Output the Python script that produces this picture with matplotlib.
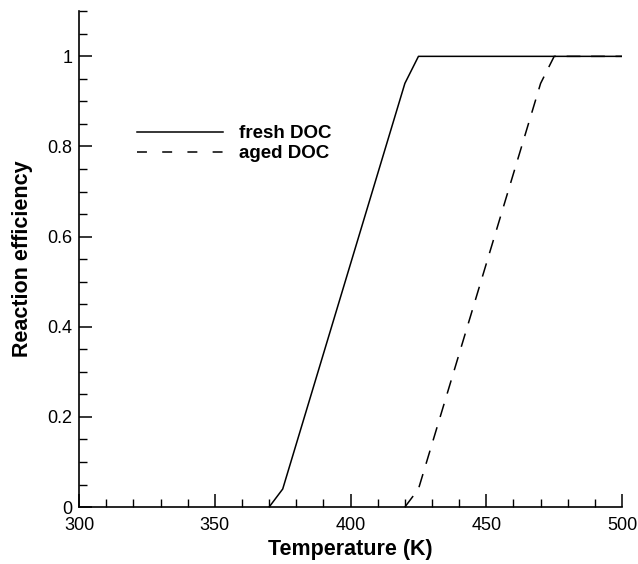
import matplotlib
matplotlib.use("Agg")
import matplotlib.pyplot as plt
from matplotlib.ticker import MultipleLocator
from matplotlib.lines import Line2D

plt.rcParams['font.family'] = ['Liberation Sans', 'DejaVu Sans']

# data
fresh_T = [370, 375, 420, 425, 500]
fresh_eff = [0, 0.04, 0.94, 1, 1]
aged_T = [420, 425, 470, 475, 500]
aged_eff = [0, 0.04, 0.94, 1, 1]

fig = plt.figure(figsize=(6.38, 5.64), dpi=100)
ax = fig.add_axes([0.124, 0.101, 0.851, 0.879])

ax.plot(fresh_T, fresh_eff, color='black', linewidth=1.1)
ax.plot(aged_T, aged_eff, color='black', linewidth=1.1, linestyle=(0, (9, 7)))

ax.set_xlim(300, 500)
ax.set_ylim(0, 1.1)
ax.xaxis.set_major_locator(MultipleLocator(50))
ax.xaxis.set_minor_locator(MultipleLocator(10))
ax.yaxis.set_minor_locator(MultipleLocator(0.05))
ax.set_yticks([0, 0.2, 0.4, 0.6, 0.8, 1.0])
ax.set_yticklabels(['0', '0.2', '0.4', '0.6', '0.8', '1'])

for s in ['top', 'right']:
    ax.spines[s].set_visible(False)
ax.spines['left'].set_linewidth(1.2)
ax.spines['bottom'].set_linewidth(1.2)

ax.tick_params(which='major', direction='in', length=9.5, width=1.1, labelsize=13, colors='black')
ax.tick_params(which='minor', direction='in', length=5.5, width=1.0)
ax.tick_params(axis='x', pad=7)
ax.tick_params(axis='y', pad=5)

ax.set_xlabel('Temperature (K)', fontsize=15.5, fontweight='bold', labelpad=4)
ax.set_ylabel('Reaction efficiency', fontsize=15.5, fontweight='bold', labelpad=10)

# legend handles (tecplot-like, dashes spaced wider)
handles = [Line2D([], [], color='black', linewidth=1.1),
           Line2D([], [], color='black', linewidth=1.1, linestyle=(0, (6.5, 10)))]
leg = fig.legend(handles, ['fresh DOC', 'aged DOC'], loc='upper left',
                 bbox_to_anchor=(137 / 638, 1 - 125 / 564), frameon=False,
                 borderpad=0, borderaxespad=0,
                 handlelength=4.6, prop={'weight': 'bold', 'size': 13.5},
                 labelspacing=0.15, handletextpad=0.85)

fig.savefig('out.png', dpi=100)
